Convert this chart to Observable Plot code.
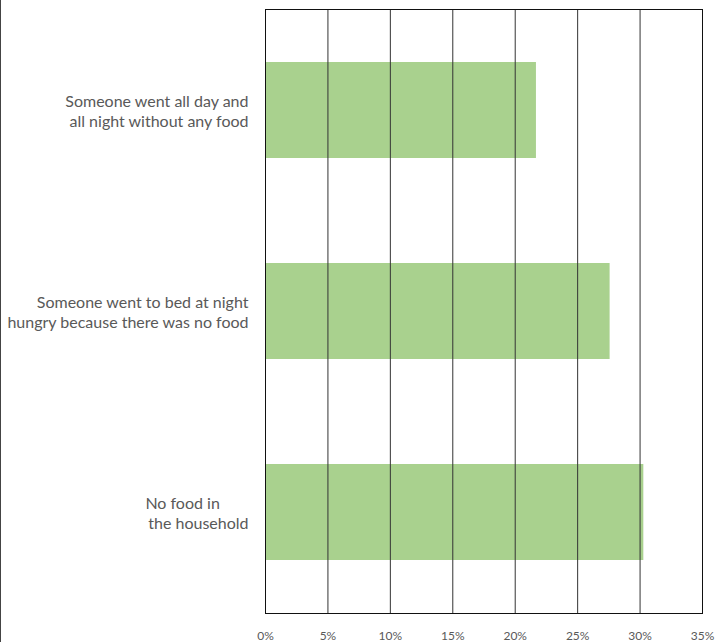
<!DOCTYPE html>
<html>
<head>
<meta charset="utf-8">
<script src="https://cdn.jsdelivr.net/npm/d3@7"></script>
<script src="https://cdn.jsdelivr.net/npm/@observablehq/plot@0.6"></script>
<style>
  html, body { margin: 0; padding: 0; background: #fff; }
  #wrap { position: relative; width: 715px; height: 642px; }
  #edge { position: absolute; left: 0; top: 0; width: 1px; height: 642px; background: #444; }
</style>
</head>
<body>
<div id="wrap"><div id="edge"></div></div>
<script>
const categories = [
  "Someone went all day and\nall night without any food",
  "Someone went to bed at night\nhungry because there was no food",
  "No food in\u00a0\u00a0\u00a0\u00a0\u00a0\u00a0\u00a0\nthe household"
];
const values = [0.217, 0.276, 0.303];
const xTicks = [0, 0.05, 0.10, 0.15, 0.20, 0.25, 0.30, 0.35];

const data = categories.map((c, i) => ({category: c, value: values[i]}));

const chart = Plot.plot({
  width: 715,
  height: 642,
  marginLeft: 265,
  marginRight: 13,
  marginTop: 9,
  marginBottom: 29,
  style: {fontFamily: "Lato, sans-serif", background: "transparent"},
  x: {domain: [0, 0.35], ticks: xTicks, tickFormat: d => Math.round(d * 100) + "%"},
  y: {domain: categories, paddingInner: 0.52, paddingOuter: 0.26},
  marks: [
    Plot.barX(data, {y: "category", x: "value", fill: "#a9d18e"}),
    Plot.ruleX(xTicks.slice(1, -1), {stroke: "#333", strokeWidth: 1}),
    Plot.frame({stroke: "#111", strokeWidth: 1}),
    Plot.axisX({ticks: xTicks, tickSize: 0, tickPadding: 18, tickFormat: d => Math.round(d * 100) + "%", label: null, fill: "#595959", fontSize: 12}),
    Plot.axisY({tickSize: 0, tickPadding: 17, label: null, fill: "#595959", fontSize: 16, lineHeight: 1.25})
  ]
});
document.getElementById("wrap").appendChild(chart);
</script>
</body>
</html>
